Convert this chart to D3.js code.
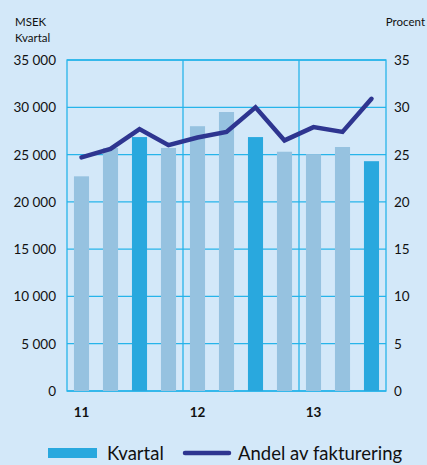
<!DOCTYPE html>
<html>
<head>
<meta charset="utf-8">
<script src="https://cdn.jsdelivr.net/npm/d3@7"></script>
<style>
	body { margin: 0; background: #d3e8f9; }
	svg { display: block; font-family: "Lato", sans-serif; }
</style>
</head>
<body>
<div id="chart"></div>
<script>
var quarters = ["11K1", "11K2", "11K3", "11K4", "12K1", "12K2", "12K3", "12K4", "13K1", "13K2", "13K3"];
var kvartal = [22700, 25700, 26850, 25700, 28000, 29500, 26850, 25300, 25050, 25800, 24300];
var andel = [24.7, 25.6, 27.7, 26.0, 26.8, 27.4, 30.0, 26.5, 27.9, 27.4, 30.9];
var leftTicks = [0, 5000, 10000, 15000, 20000, 25000, 30000, 35000];
var rightTicks = [0, 5, 10, 15, 20, 25, 30, 35];
var yearLabels = ["11", "12", "13"];

var width = 427;
var height = 465;
var plot = {left: 67, right: 386, top: 60, bottom: 391};

var colLight = "#96c2e0";
var colDark = "#29a8de";
var colLine = "#2e3590";
var colGrid = "#27b4ea";

var svg = d3.select("#chart").append("svg")
	.attr("width", width)
	.attr("height", height);

svg.append("rect")
	.attr("width", width)
	.attr("height", height)
	.attr("fill", "#d3e8f9");

/* Scales */
var x = d3.scaleBand()
	.domain(quarters)
	.range([plot.left, plot.right])
	.paddingInner(0.48)
	.paddingOuter(0.24);

var yL = d3.scaleLinear().domain([0, 35000]).range([plot.bottom, plot.top]);
var yR = d3.scaleLinear().domain([0, 35]).range([plot.bottom, plot.top]);

var step = (plot.right - plot.left) / quarters.length;

/* Grid */
svg.append("g").selectAll("line")
	.data(leftTicks).enter()
	.append("line")
	.attr("x1", plot.left).attr("x2", plot.right)
	.attr("y1", d => yL(d)).attr("y2", d => yL(d))
	.attr("stroke", colGrid)
	.attr("stroke-width", 1.3);

// year separators
svg.append("g").selectAll("line")
	.data(quarters.filter(q => q.endsWith("K1")).slice(1)).enter()
	.append("line")
	.attr("x1", d => plot.left + quarters.indexOf(d) * step)
	.attr("x2", d => plot.left + quarters.indexOf(d) * step)
	.attr("y1", plot.top).attr("y2", plot.bottom)
	.attr("stroke", colGrid)
	.attr("stroke-width", 1.3);

svg.append("rect")
	.attr("x", plot.left).attr("y", plot.top)
	.attr("width", plot.right - plot.left)
	.attr("height", plot.bottom - plot.top)
	.attr("fill", "none")
	.attr("stroke", colGrid)
	.attr("stroke-width", 1.3);

/* Bars */
svg.append("g").selectAll("rect")
	.data(quarters).enter()
	.append("rect")
	.attr("x", d => x(d))
	.attr("width", x.bandwidth())
	.attr("y", (d, i) => yL(kvartal[i]))
	.attr("height", (d, i) => yL(0) - yL(kvartal[i]))
	.attr("fill", d => d.endsWith("K3") ? colDark : colLight);

/* Line */
var line = d3.line()
	.x((d, i) => x(quarters[i]) + x.bandwidth() / 2)
	.y(d => yR(d));

svg.append("path")
	.attr("d", line(andel))
	.attr("fill", "none")
	.attr("stroke", colLine)
	.attr("stroke-width", 4.5)
	.attr("stroke-linejoin", "miter")
	.attr("stroke-linecap", "round");

/* Axes labels */
var fmt = d => d3.format(",")(d).replace(/,/g, " ");

svg.append("g").selectAll("text")
	.data(leftTicks).enter()
	.append("text")
	.attr("x", 56)
	.attr("y", d => yL(d) + 5)
	.attr("text-anchor", "end")
	.attr("font-size", 13.5)
	.attr("fill", "#111")
	.text(fmt);

svg.append("g").selectAll("text")
	.data(rightTicks).enter()
	.append("text")
	.attr("x", 394)
	.attr("y", d => yR(d) + 5)
	.attr("font-size", 13.5)
	.attr("fill", "#111")
	.text(d => d);

svg.append("g").selectAll("text")
	.data(yearLabels).enter()
	.append("text")
	.attr("x", d => x(d + "K1") + x.bandwidth() / 2)
	.attr("y", 417)
	.attr("text-anchor", "middle")
	.attr("font-size", 13.5)
	.attr("font-weight", "bold")
	.attr("fill", "#111")
	.text(d => d);

svg.append("text").attr("x", 15).attr("y", 26).attr("font-size", 11.5).attr("fill", "#111").text("MSEK");
svg.append("text").attr("x", 15).attr("y", 42).attr("font-size", 11.5).attr("fill", "#111").text("Kvartal");
svg.append("text").attr("x", 425).attr("y", 26).attr("text-anchor", "end").attr("font-size", 11.5).attr("fill", "#111").text("Procent");

/* Legend */
var legend = svg.append("g");
legend.append("rect")
	.attr("x", 48).attr("y", 448)
	.attr("width", 49).attr("height", 10)
	.attr("fill", colDark);
legend.append("text")
	.attr("x", 107).attr("y", 460)
	.attr("font-size", 18.5)
	.attr("fill", "#111")
	.text("Kvartal");
legend.append("line")
	.attr("x1", 185).attr("x2", 229)
	.attr("y1", 453).attr("y2", 453)
	.attr("stroke", colLine)
	.attr("stroke-width", 4.5)
	.attr("stroke-linecap", "round");
legend.append("text")
	.attr("x", 238).attr("y", 460)
	.attr("font-size", 18.5)
	.attr("fill", "#111")
	.text("Andel av fakturering");
</script>
</body>
</html>
